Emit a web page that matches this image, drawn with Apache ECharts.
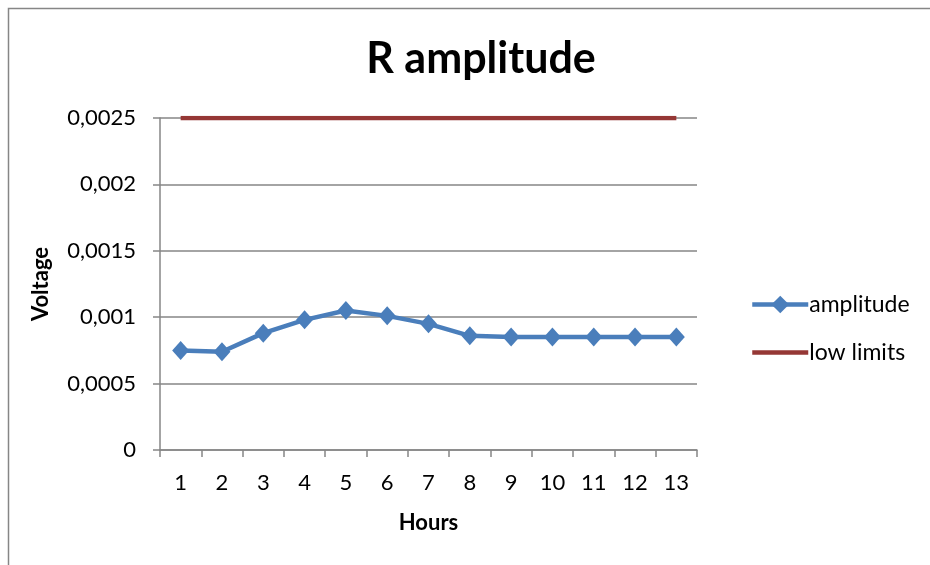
<!DOCTYPE html>
<html>
<head>
<meta charset="utf-8">
<script src="https://cdn.jsdelivr.net/npm/echarts@6/dist/echarts.min.js"></script>
<style>
  html, body { margin: 0; padding: 0; background: #fff; }
  #chart { width: 930px; height: 565px; }
</style>
</head>
<body>
<div id="chart"></div>
<script>
// Hourly R-wave amplitude readings against the fixed low limit
const hours = ['1', '2', '3', '4', '5', '6', '7', '8', '9', '10', '11', '12', '13'];
const amplitude = [0.00075, 0.00074, 0.00088, 0.00098, 0.00105, 0.00101, 0.00095, 0.00086, 0.00085, 0.00085, 0.00085, 0.00085, 0.00085];
const lowLimits = [0.0025, 0.0025, 0.0025, 0.0025, 0.0025, 0.0025, 0.0025, 0.0025, 0.0025, 0.0025, 0.0025, 0.0025, 0.0025];
const yTicks = [0, 0.0005, 0.001, 0.0015, 0.002, 0.0025];

const FONT = 'Lato, "Open Sans", sans-serif';
const AXIS_GREY = '#868686';
const BLUE = '#4a7ebb';
const RED = '#953735';

const chart = echarts.init(document.getElementById('chart'), null, { renderer: 'canvas' });

chart.setOption({
  animation: false,
  backgroundColor: '#fff',
  textStyle: { fontFamily: FONT, color: '#000' },
  title: {
    text: 'R amplitude',
    left: 476,
    top: 33,
    textAlign: 'center',
    textStyle: { fontFamily: FONT, fontSize: 43, fontWeight: 'bold', color: '#000' }
  },
  graphic: [{
    // chart area frame (continues past the right and bottom edges)
    type: 'rect',
    shape: { x: 8.5, y: 8.5, width: 1000, height: 1000 },
    style: { fill: 'none', stroke: AXIS_GREY, lineWidth: 1.5 },
    silent: true
  }],
  legend: {
    orient: 'vertical',
    left: 745,
    top: 288,
    itemWidth: 56,
    itemHeight: 22,
    itemGap: 25,
    lineStyle: { width: 4.5 },
    textStyle: { fontFamily: FONT, fontSize: 23, color: '#000', padding: [0, 0, 0, -4] },
    data: [
      { name: 'amplitude' },
      { name: 'low limits', itemStyle: { opacity: 0 } }
    ]
  },
  grid: { left: 160, right: 233, top: 118, bottom: 115 },
  xAxis: {
    type: 'category',
    data: hours,
    boundaryGap: true,
    name: 'Hours',
    nameLocation: 'middle',
    nameGap: 62,
    nameTextStyle: { fontFamily: FONT, fontSize: 22, fontWeight: 'bold', color: '#000' },
    axisLine: { lineStyle: { color: AXIS_GREY, width: 1.5 } },
    axisTick: { show: true, interval: 0, length: 7, lineStyle: { color: AXIS_GREY, width: 1.5 } },
    axisLabel: { fontFamily: FONT, fontSize: 22, color: '#000', margin: 22, interval: 0 },
    splitLine: { show: false }
  },
  yAxis: {
    type: 'value',
    min: 0,
    max: 0.0025,
    interval: 0.0005,
    name: 'Voltage',
    nameLocation: 'middle',
    nameGap: 108,
    nameRotate: 90,
    nameTextStyle: { fontFamily: FONT, fontSize: 22, fontWeight: 'bold', color: '#000' },
    axisLine: { show: true, lineStyle: { color: AXIS_GREY, width: 1.5 } },
    axisTick: { show: true, length: 7, lineStyle: { color: AXIS_GREY, width: 1.5 } },
    axisLabel: {
      fontFamily: FONT, fontSize: 22, color: '#000', margin: 24,
      formatter: v => {
        const t = yTicks.find(k => Math.abs(k - v) < 1e-9);
        return String(t === undefined ? v : t).replace('.', ',');
      }
    },
    splitLine: { show: true, lineStyle: { color: AXIS_GREY, width: 1.5 } }
  },
  series: [
    {
      name: 'amplitude',
      type: 'line',
      data: amplitude,
      symbol: 'diamond',
      symbolSize: [17, 19],
      showAllSymbol: true,
      lineStyle: { color: BLUE, width: 4.5 },
      itemStyle: { color: BLUE },
      z: 3
    },
    {
      name: 'low limits',
      type: 'line',
      data: lowLimits,
      symbol: 'none',
      lineStyle: { color: RED, width: 4.5 },
      itemStyle: { color: RED },
      z: 2
    }
  ]
});
</script>
</body>
</html>
